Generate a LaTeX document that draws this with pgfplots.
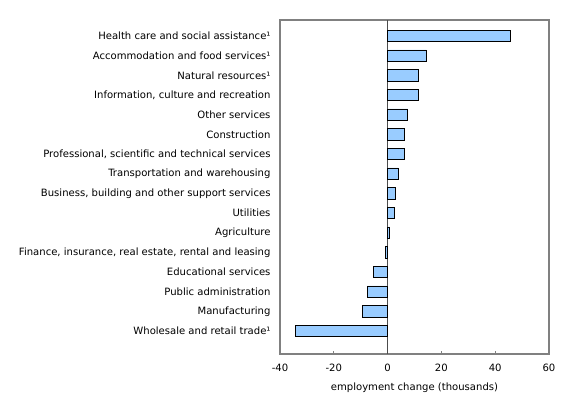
\documentclass[border=0pt]{standalone}
\usepackage{fontspec}
\setmainfont{DejaVu Sans}
\usepackage{pgfplots}
\pgfplotsset{compat=1.18}
\definecolor{barblue}{HTML}{99CCFF}
\definecolor{framegray}{HTML}{808080}
\begin{document}
\begin{tikzpicture}
\path[use as bounding box] (0,0) rectangle (580bp,395bp);
\begin{axis}[
  at={(280bp,41bp)}, anchor=south west,
  scale only axis, width=269bp, height=334bp,
  xmin=-40, xmax=60, ymin=-1.17, ymax=15.81,
  xtick={-40,-20,0,20,40,60},
  xtick pos=lower, tick align=inside, major tick length=3bp,
  ytick={0,...,15},
  yticklabels={Wholesale and retail trade¹, Manufacturing, Public administration, Educational services, {Finance, insurance, real estate, rental and leasing}, Agriculture, Utilities, {Business, building and other support services}, Transportation and warehousing, {Professional, scientific and technical services}, Construction, Other services, {Information, culture and recreation}, Natural resources¹, Accommodation and food services¹, Health care and social assistance¹},
  ytick style={draw=none},
  yticklabel style={font=\fontsize{10.1}{12}\selectfont, xshift=-3bp},
  xticklabel style={font=\fontsize{10.1}{12}\selectfont, yshift=-7bp},
  /pgf/number format/assume math mode=true,
  xlabel={employment change (thousands)},
  xlabel style={font=\fontsize{10.1}{12}\selectfont, yshift=-4bp},
  axis line style={framegray, line width=1.3bp},
  x tick style={framegray, line width=1.3bp},
  xbar, bar width=11.3bp,
  extra x ticks={0}, extra x tick labels={},
  extra x tick style={grid=major, major grid style={gray!60!black, line width=1bp}, major tick length=0pt},
]
\addplot[fill=barblue, draw=black, line width=0.8bp] coordinates {
(-34.2,0) (-9.3,1) (-7.5,2) (-5.1,3) (-0.9,4) (0.6,5) (2.4,6) (2.9,7) (4.0,8) (6.1,9) (6.3,10) (7.5,11) (11.3,12) (11.5,13) (14.4,14) (45.8,15)
};
\end{axis}
\end{tikzpicture}
\end{document}
